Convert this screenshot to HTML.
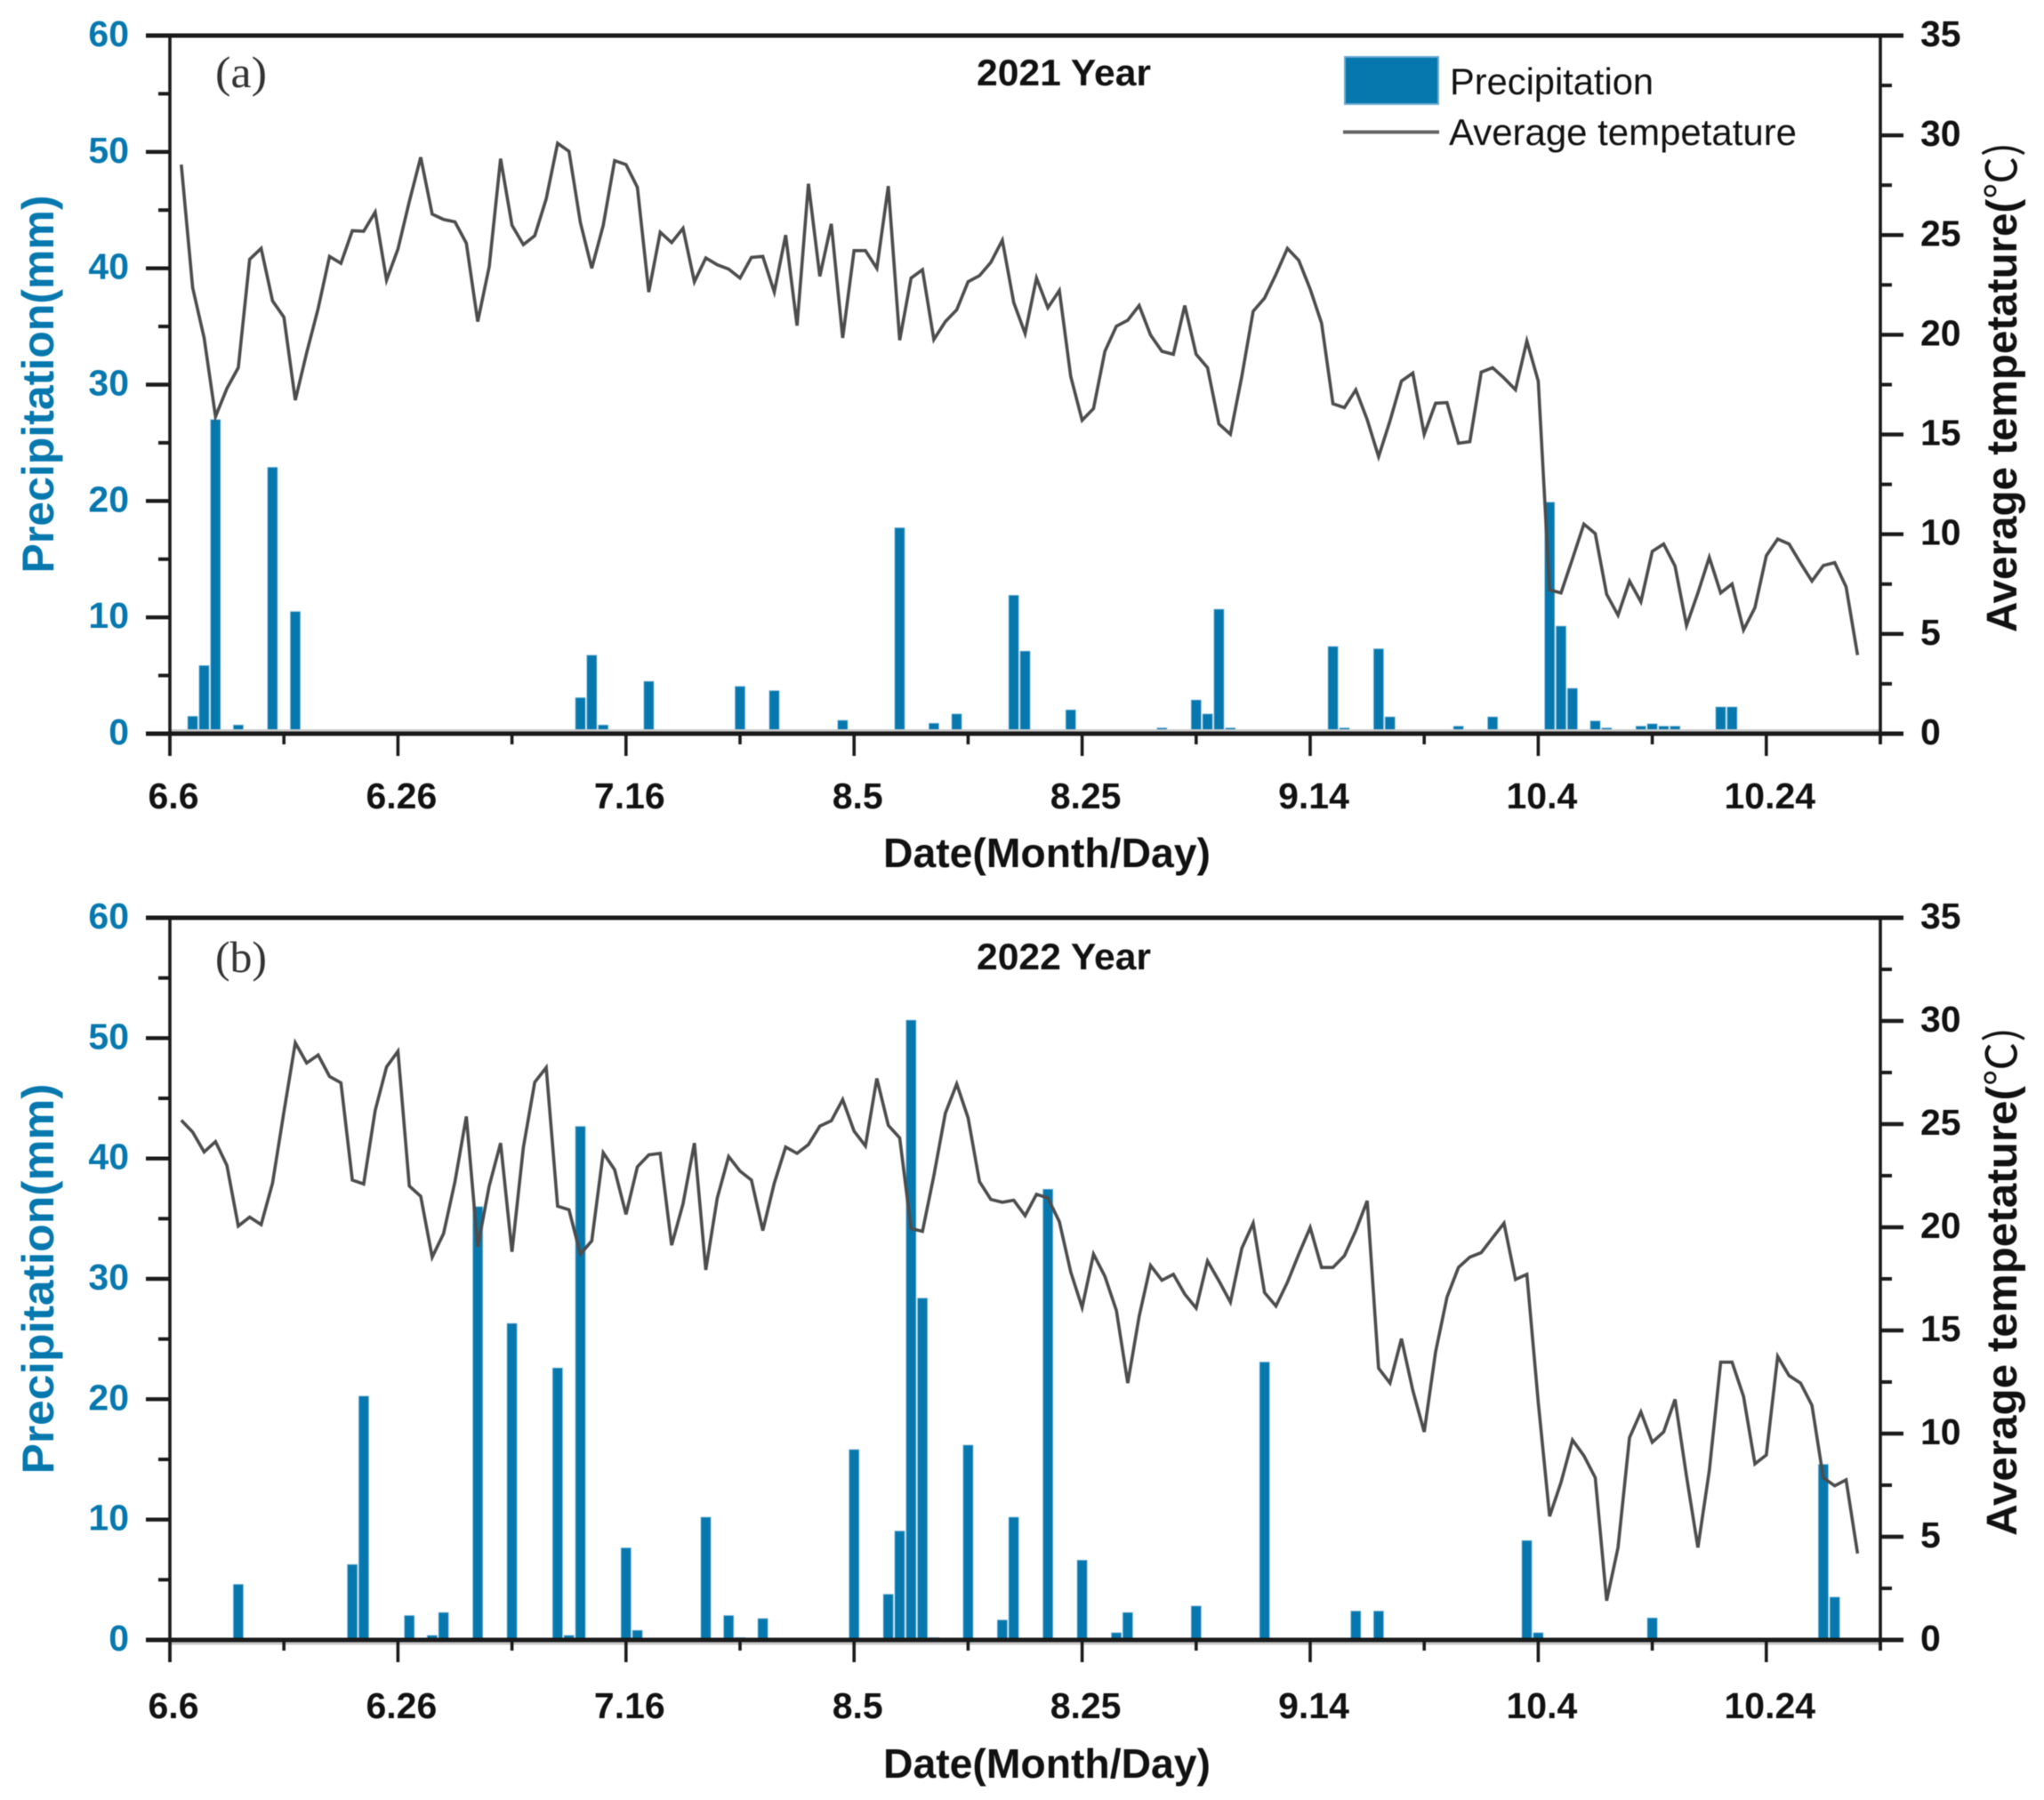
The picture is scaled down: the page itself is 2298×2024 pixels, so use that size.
<!DOCTYPE html>
<html lang="en">
<head>
<meta charset="utf-8">
<title>Precipitation and average temperature, 2021 and 2022</title>
<style>
html,body{margin:0;padding:0;background:#fff;}
body{width:2298px;height:2024px;overflow:hidden;}
svg{display:block;filter:blur(0.6px);font-family:"Liberation Sans","Noto Sans CJK SC",sans-serif;}
</style>
</head>
<body>
<svg id="chart" xmlns="http://www.w3.org/2000/svg" width="2298" height="2024" viewBox="0 0 2298 2024"></svg>
<script>
const xTickDays = [0, 20, 40, 60, 80, 100, 120, 140];
const xTickLabels = ['6.6', '6.26', '7.16', '8.5', '8.25', '9.14', '10.4', '10.24'];
const xMinorDays = [10, 30, 50, 70, 90, 110, 130, 150];
const rainTicks = [0, 10, 20, 30, 40, 50, 60];
const rainMinorTicks = [5, 15, 25, 35, 45, 55];
const tempTicks = [0, 5, 10, 15, 20, 25, 30, 35];
const tempMinorTicks = [2.5, 7.5, 12.5, 17.5, 22.5, 27.5, 32.5];

const temp2021 = [
28.53,22.36,19.84,15.90,17.31,18.35,23.78,24.33,21.70,20.88,
16.72,19.10,21.32,23.93,23.58,25.22,25.19,26.15,22.74,24.30,
26.68,28.90,26.05,25.78,25.66,24.59,20.66,23.41,28.83,25.49,
24.52,24.97,26.82,29.60,29.20,25.63,23.33,25.49,28.73,28.53,
27.39,22.14,25.14,24.62,25.34,22.66,23.85,23.51,23.29,22.84,
23.88,23.93,22.14,25.00,20.46,27.57,22.93,25.56,19.84,24.22,
24.22,23.33,27.45,19.73,22.84,23.26,19.76,20.66,21.25,22.66,
22.96,23.63,24.74,21.62,20.06,22.84,21.35,22.22,17.91,15.71,
16.30,19.17,20.43,20.73,21.47,19.99,19.17,19.02,21.47,19.02,
18.35,15.53,15.01,17.91,21.18,21.84,23.03,24.33,23.73,22.29,
20.58,16.54,16.35,17.24,15.75,13.89,15.68,17.68,18.08,15.01,
16.57,16.60,14.56,14.64,18.13,18.35,17.83,17.24,19.69,17.68,
7.21,7.06,8.77,10.51,10.03,6.99,5.94,7.65,6.61,9.14,
9.51,8.40,5.42,7.06,8.84,7.06,7.51,5.20,6.32,8.92,
9.76,9.51,8.55,7.65,8.43,8.58,7.36,3.94];

const temp2022 = [
25.19,24.61,23.65,24.15,23.00,20.06,20.49,20.13,22.14,25.59,
28.94,27.96,28.35,27.31,27.00,22.29,22.10,25.66,27.77,28.53,
22.00,21.50,18.55,19.70,22.21,25.37,19.05,22.00,24.08,18.81,
23.87,27.03,27.74,21.02,20.85,18.70,19.34,23.61,22.79,20.63,
22.93,23.51,23.58,19.13,21.14,24.08,17.93,21.42,23.43,22.72,
22.29,19.84,22.14,23.89,23.58,24.01,24.90,25.16,26.19,24.66,
23.94,27.21,24.94,24.33,19.94,19.80,22.50,25.52,26.95,25.30,
22.21,21.35,21.21,21.31,20.56,21.60,21.42,20.27,17.83,16.11,
18.70,17.62,15.97,12.45,15.68,18.15,17.43,17.72,16.76,16.08,
18.36,17.40,16.37,18.98,20.20,16.83,16.18,17.33,18.70,19.99,
18.05,18.05,18.62,19.84,21.28,13.17,12.45,14.60,12.09,10.08,
13.96,16.61,18.05,18.55,18.77,19.49,20.20,17.47,17.72,11.52,
5.99,7.64,9.69,8.93,7.86,1.90,4.48,9.80,11.05,9.58,
10.08,11.66,7.93,4.48,8.20,13.46,13.46,11.80,8.53,8.96,
13.74,12.81,12.45,11.37,7.86,7.47,7.76,4.19];

const rainDays2021 = [2,3,4,6,9,11,36,37,38,42,50,53,59,64,67,69,74,75,79,87,90,91,92,93,102,103,106,107,108,113,114,116,117,120,121,122,123,125,126,129,130,131,132,136,137];
const rainValues2021 = [1.5,5.86,27.0,0.75,22.9,10.5,3.1,6.75,0.75,4.5,4.07,3.7,1.15,17.7,0.9,1.7,11.9,7.1,2.05,0.5,2.9,1.7,10.7,0.5,7.5,0.5,7.3,1.45,0.3,0.65,0.3,1.45,0.25,0.2,19.9,9.25,3.9,1.1,0.5,0.65,0.85,0.65,0.65,2.3,2.3];

const rainDays2022 = [6,16,17,21,23,24,27,28,30,34,35,36,40,41,47,49,50,52,60,63,64,65,66,67,70,73,74,75,77,80,83,84,89,90,91,96,104,106,107,119,120,130,131,145,146,147];
const rainValues2022 = [4.62,6.27,20.26,2.03,0.38,2.28,36.0,0.15,26.3,22.6,0.38,42.67,7.65,0.8,10.2,2.03,0.2,1.78,15.82,3.8,9.05,51.5,28.4,0.2,16.19,1.66,10.2,0.15,37.45,6.63,0.6,2.28,0.1,2.82,0.1,23.09,2.4,2.4,0.15,8.26,0.6,1.83,0.15,14.59,3.56,0.15];

const svg = document.getElementById('chart');
const NS = 'http://www.w3.org/2000/svg';
const BLUE = '#0678ae';
const BLACK = '#1a1a1a';
const DAY_MAX = 150;
const RAIN_MAX = 60;
const TEMP_MAX = 35;
const AXIS_LEFT = 191;
const AXIS_RIGHT = 2114;

function xScale(day) {
  return AXIS_LEFT + (AXIS_RIGHT - AXIS_LEFT) * day / DAY_MAX;
}
function rainScale(panel, v) {
  return panel.bottom - (panel.bottom - panel.top) * v / RAIN_MAX;
}
function tempScale(panel, v) {
  return panel.bottom - (panel.bottom - panel.top) * v / TEMP_MAX;
}
function make(tag, attrs, parent) {
  const el = document.createElementNS(NS, tag);
  for (const k in attrs) el.setAttribute(k, attrs[k]);
  (parent || svg).appendChild(el);
  return el;
}
function line(x1, y1, x2, y2, w, parent, color) {
  return make('line', {x1, y1, x2, y2, stroke: color || BLACK, 'stroke-width': w}, parent);
}
function label(str, x, y, size, opts, parent) {
  const el = make('text', Object.assign({x, y, 'font-size': size}, opts || {}), parent);
  el.textContent = str;
  return el;
}

function drawPanel(panel) {
  const g = make('g', {});
  
  

  /* bars */
  const bars = make('g', {}, g);
  
  
  panel.rainDays.forEach(function (day, k) {
    const y = rainScale(panel, panel.rainValues[k]);
    const bar = make('rect', {
      x: xScale(day) - 5.6, y: y, width: 11.2, height: panel.bottom - y,
      fill: BLUE, stroke: '#8fc0dc', 'stroke-width': 0.8
    }, bars);
    
    
  });

  /* blurred baseline halo */
  const halo = line(AXIS_LEFT, panel.bottom + panel.haloOffset, AXIS_RIGHT, panel.bottom + panel.haloOffset, 3, g, '#c9c9c9');
  
  

  /* temperature line */
  const pts = panel.temps.map(function (t, k) {
    return xScale(k + 1).toFixed(1) + ',' + tempScale(panel, t).toFixed(1);
  }).join(' ');
  const tempLine = make('polyline', {
    points: pts, fill: 'none', stroke: '#4c4c4c', 'stroke-width': 3.6, 'stroke-linejoin': 'miter'
  }, g);
  
  

  /* frame */
  const frame = make('g', {}, g);
  
  
  line(164, panel.top, 2140, panel.top, 5, frame);
  line(164, panel.bottom, 2140, panel.bottom, 5, frame);
  line(AXIS_LEFT, panel.top, AXIS_LEFT, panel.bottom + 25, 3.6, frame);
  line(AXIS_RIGHT, panel.top, AXIS_RIGHT, panel.bottom + 12, 3.6, frame);

  /* left axis */
  rainTicks.forEach(function (v) {
    const y = rainScale(panel, v);
    line(164, y, AXIS_LEFT, y, 4.4, frame);
    const t = label(String(v), 145, y + 12, 41, {'text-anchor': 'end', 'font-weight': 'bold', fill: BLUE}, g);
    
    
  });
  rainMinorTicks.forEach(function (v) {
    const y = rainScale(panel, v);
    line(178, y, AXIS_LEFT, y, 4, frame);
  });

  /* right axis */
  tempTicks.forEach(function (v) {
    const y = tempScale(panel, v);
    line(AXIS_RIGHT, y, 2140, y, 4.4, frame);
    const t = label(String(v), 2159, y + 12, 41, {'font-weight': 'bold', fill: '#111'}, g);
    
    
  });
  tempMinorTicks.forEach(function (v) {
    const y = tempScale(panel, v);
    line(AXIS_RIGHT, y, 2127, y, 4, frame);
  });

  /* x axis */
  xTickDays.forEach(function (d, k) {
    const x = xScale(d);
    line(x, panel.bottom, x, panel.bottom + 25, 3.6, frame);
    const t = label(xTickLabels[k], x + 4, panel.xLabelY, 41, {'text-anchor': 'middle', 'font-weight': 'bold', fill: '#111'}, g);
    
    
  });
  xMinorDays.forEach(function (d) {
    const x = xScale(d);
    line(x, panel.bottom, x, panel.bottom + 12, 3.6, frame);
  });

  /* titles */
  const xTitle = label('Date(Month/Day)', 993, panel.xTitleY, 46, {'font-weight': 'bold', fill: '#111', textLength: 368, lengthAdjust: 'spacingAndGlyphs'}, g);
  
  

  const yTitle = label('Precipitation(mm)', 0, 0, 50, {
    'font-weight': 'bold', fill: BLUE, 'text-anchor': 'middle',
    textLength: panel.leftTitleLen, lengthAdjust: 'spacingAndGlyphs',
    transform: 'translate(60 ' + panel.leftTitleY + ') rotate(-90)'
  }, g);
  
  

  const rTitle = make('text', {
    x: 0, y: 0, 'font-size': 48, 'font-weight': 'bold', fill: '#111', 'text-anchor': 'middle',
    textLength: panel.rightTitleLen, lengthAdjust: 'spacingAndGlyphs',
    transform: 'translate(2267 ' + panel.rightTitleY + ') rotate(-90)'
  }, g);
  
  
  rTitle.appendChild(document.createTextNode('Average tempetature('));
  const unit = make('tspan', {'font-weight': 'normal', 'font-family': '"Noto Sans CJK SC","Liberation Sans",sans-serif'}, rTitle);
  
  
  unit.textContent = '℃)';

  const yearTitle = label(panel.year + ' Year', 1098, panel.titleY, 41.5, {'font-weight': 'bold', fill: '#111', textLength: 196, lengthAdjust: 'spacingAndGlyphs'}, g);
  
  

  const tag = label(panel.tag, 242, panel.tagY, 50, {'font-family': '"Liberation Serif","Noto Serif CJK SC",serif', fill: '#333', textLength: 58, lengthAdjust: 'spacingAndGlyphs'}, g);
  
  
}

drawPanel({
  year: 2021, tag: '(a)', top: 40, bottom: 825, haloOffset: -3.5,
  temps: temp2021, rainDays: rainDays2021, rainValues: rainValues2021,
  xLabelY: 909, xTitleY: 975, titleY: 96, tagY: 98,
  leftTitleY: 432, leftTitleLen: 425, rightTitleY: 435.5, rightTitleLen: 551
});
drawPanel({
  year: 2022, tag: '(b)', top: 1032, bottom: 1844, haloOffset: 4,
  temps: temp2022, rainDays: rainDays2022, rainValues: rainValues2022,
  xLabelY: 1932, xTitleY: 1999, titleY: 1090, tagY: 1093,
  leftTitleY: 1438, leftTitleLen: 439, rightTitleY: 1441, rightTitleLen: 572
});

/* legend */
const legend = make('g', {});



const swatch = make('rect', {x: 1512, y: 64, width: 105, height: 53, fill: BLUE, stroke: '#6aaad0', 'stroke-width': 2}, legend);



const swatchText = label('Precipitation', 1630, 106, 42, {fill: '#111', textLength: 229, lengthAdjust: 'spacingAndGlyphs'}, legend);



const swatchLine = line(1510, 148.5, 1618, 148.5, 4, legend, '#666');



const lineText = label('Average tempetature', 1629, 163, 42, {fill: '#111', textLength: 391, lengthAdjust: 'spacingAndGlyphs'}, legend);


</script>
</body>
</html>
